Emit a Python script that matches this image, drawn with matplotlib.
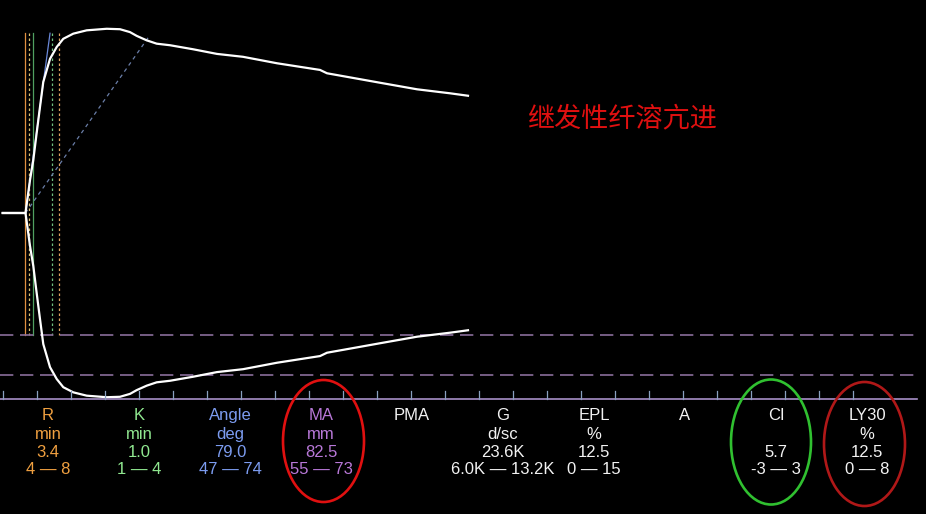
import numpy as np
import matplotlib
matplotlib.use("Agg")
import matplotlib.pyplot as plt
from matplotlib.patches import Ellipse

# TEG trace: time (min) vs full amplitude (mm)
time_min = [0.36, 3.4, 4.0, 4.44, 4.89, 5.33, 5.77, 6.67, 7.56, 8.44, 9.77, 11.56,
            14.23, 16.0, 17.33, 18.23, 19.56, 20.89, 22.67, 25.73, 28.93, 32.4,
            36.93, 42.67, 43.6, 51.07, 55.6, 60.0, 62.4]
amp_mm = [0, 0, 14.8, 23.8, 36.0, 47.6, 58.9, 69.3, 74.6, 78.3, 80.6, 82.1,
          82.8, 82.6, 81.3, 79.6, 77.6, 76.1, 75.4, 73.6, 71.5, 70.2,
          67.3, 64.3, 62.8, 58.3, 55.6, 53.8, 52.7]

# marker lines (min)
r_time = 3.4
rk_time = 4.4
r_range_lo = 3.85
r_range_hi = 7.93
k_range_mark = 6.87
ma_range = [55, 73]

# angle guide lines: (t0, h0) -> (t1, h1), half amplitude in mm
tangent_line = [(3.4, 0.0), (6.67, 40.4)]
angle_line = [(3.4, 0.0), (20.0, 40.0)]

params = ['R', 'K', 'Angle', 'MA', 'PMA', 'G', 'EPL', 'A', 'CI', 'LY30']
units = ['min', 'min', 'deg', 'mm', '', 'd/sc', '%', '', '', '%']
values = ['3.4', '1.0', '79.0', '82.5', '', '23.6K', '12.5', '', '5.7', '12.5']
ranges = ['4 — 8', '1 — 4', '47 — 74', '55 — 73', '', '6.0K — 13.2K', '0 — 15', '',
          '-3 — 3', '0 — 8']
colors = ['#F0A040', '#90E890', '#7C9CF0', '#B878D8', '#F2F2F2', '#F2F2F2',
          '#F2F2F2', '#F2F2F2', '#F2F2F2', '#F2F2F2']

title_cn = '继发性纤溶亢进'

W, H = 926, 514
PX_MIN = 7.5      # px per minute
PX_MM = 4.45      # px per mm
Y0 = 213          # center line px

fig = plt.figure(figsize=(W / 100, H / 100), dpi=100)
fig.patch.set_facecolor('black')
ax = fig.add_axes([0, 0, 1, 1])
ax.set_facecolor('black')
ax.set_xlim(0, W / PX_MIN)
ax.set_ylim(-(H - Y0) / PX_MM, Y0 / PX_MM)
ax.axis('off')

t = np.array(time_min)
a = np.array(amp_mm) / 2.0

# vertical marker lines
vtop, vbot = 40.4, -ma_range[0] / 2
ax.plot([r_time, r_time], [vtop, vbot], color='#E09040', lw=0.9)
ax.plot([r_range_lo, r_range_lo], [vtop, vbot], color='#E0C070', lw=0.9, ls=(0, (2, 2)))
ax.plot([rk_time, rk_time], [vtop, vbot], color='#50A060', lw=0.9)
ax.plot([k_range_mark, k_range_mark], [vtop, vbot], color='#70C080', lw=0.9, ls=(0, (2, 2)))
ax.plot([r_range_hi, r_range_hi], [vtop, vbot], color='#E0A060', lw=0.9, ls=(0, (2, 2)))

# angle lines
ax.plot([p[0] for p in tangent_line], [p[1] for p in tangent_line], color='#6A88D8', lw=0.9)
ax.plot([p[0] for p in angle_line], [p[1] for p in angle_line], color='#6A7EA8', lw=0.9,
        ls=(0, (3, 3)))

# MA range dashed lines
for v in ma_range:
    ax.plot([0, 917 / PX_MIN], [-v / 2, -v / 2], color='#8A6E9A', lw=1.2, ls=(0, (8, 4)))

# trace
ax.plot(t, a, color='white', lw=1.6, solid_joinstyle='round')
ax.plot(t, -a, color='white', lw=1.6, solid_joinstyle='round')

# time axis
y_axis = -(399 - Y0) / PX_MM
y_tick = -(391 - Y0) / PX_MM
ax.plot([0, 917 / PX_MIN], [y_axis, y_axis], color='#A890C8', lw=1.2)
for k in range(26):
    xt = (2.7 + 34 * k) / PX_MIN
    ax.plot([xt, xt], [y_axis, y_tick], color='#8AA0C0', lw=0.9)

# chinese label
fig.text(622 / W, 1 - 119 / H, title_cn, color='#E01010', fontsize=19.5,
         family=['Noto Sans CJK SC', 'DejaVu Sans'], ha='center', va='center')

# parameter table
rows = [params, units, values, ranges]
baselines = [420, 439, 457, 474]
for i in range(len(params)):
    xc = (48 + 91 * i) / W
    for row, yb in zip(rows, baselines):
        if row[i]:
            fig.text(xc, 1 - yb / H, row[i], color=colors[i], fontsize=12,
                     family='Liberation Sans', ha='center', va='baseline')

# highlight ellipses
for cx, cy, w, h, c in [(323.5, 441, 81, 122, '#E01010'),
                        (771, 442, 80, 125, '#30C030'),
                        (864.5, 444, 81, 124, '#B01818')]:
    fig.patches.append(Ellipse((cx / W, 1 - cy / H), w / W, h / H, fill=False,
                               edgecolor=c, lw=1.9, transform=fig.transFigure))

fig.savefig('out.png', dpi=100, facecolor='black')
